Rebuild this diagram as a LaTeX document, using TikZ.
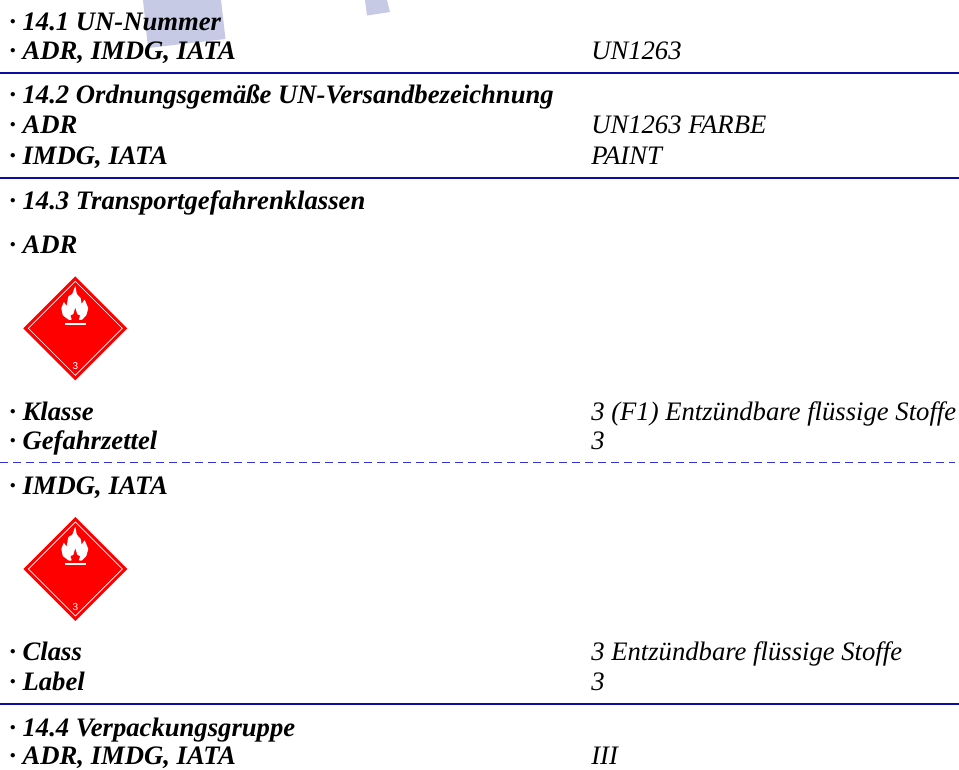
\documentclass[tikz,border=0pt]{standalone}
\usepackage{fontspec}
\setmainfont{Liberation Serif}
\newfontfamily\hazsans{Liberation Sans}
\definecolor{rulecol}{RGB}{12,12,160}
\definecolor{dashcol}{RGB}{50,50,215}
\definecolor{wm}{RGB}{198,202,228}
\definecolor{hazred}{RGB}{255,0,0}
\tikzset{x=0.75pt,y=-0.75pt,
 lab/.style={anchor=base west,inner sep=0pt,font=\fontsize{20}{20}\selectfont\bfseries\itshape},
 val/.style={anchor=base west,inner sep=0pt,font=\fontsize{20}{20}\selectfont\itshape},
 sep/.style={draw=rulecol,line width=1.5pt},
 dsep/.style={draw=dashcol,line width=0.75pt,dash pattern=on 6pt off 3.75pt}}
\newcommand{\hazdiamond}[2]{%
 \begin{scope}[shift={(#1,#2)}]
 \fill[hazred] (0,-52) -- (52,0) -- (0,52) -- (-52,0) -- cycle;
 \draw[white,line width=0.5pt] (0,-47) -- (47,0) -- (0,47) -- (-47,0) -- cycle;
 \fill[white,rounded corners=0.5pt] (-6.7,-8.5) -- (-12.5,-13) -- (-14,-20) -- (-11.5,-26.5) -- (-8.7,-22.3)
   -- (-7,-32) -- (-3,-34.3) -- (0,-42.5) -- (1.5,-34.3) -- (5.5,-30) -- (6.3,-24.3)
   -- (9.3,-29) -- (13,-20) -- (11,-13) -- (6.7,-8.5) -- (3.5,-8.5) -- (5,-13) -- (2,-14)
   -- (0,-21) -- (-2,-14) -- (-5,-13) -- (-3.5,-8.5) -- cycle;
 \fill[white] (-10.5,-5.7) rectangle (11,-3.6);
 \node[white,inner sep=0pt,font=\fontsize{7.5}{7.5}\selectfont\hazsans] at (0,38) {3};
 \end{scope}}
\begin{document}
\begin{tikzpicture}
\useasboundingbox (0,0) rectangle (959,769);
\fill[wm] (143,0) -- (221,0) -- (225.5,39) -- (148,48) -- cycle;
\fill[wm] (365,0) -- (387,0) -- (390,12) -- (367,15.5) -- cycle;
\node[lab] (a1) at (9,30) {· 14.1 UN-Nummer};
\node[lab] (a2) at (9,59) {· ADR, IMDG, IATA};
\node[val] (v2) at (591,59) {UN1263};
\coordinate (r1a) at (0,72.5); \coordinate (r1b) at (959,72.5);
\draw[sep] (r1a) -- (r1b);
\node[lab] (b1) at (9,103) {· 14.2 Ordnungsgemäße UN-Versandbezeichnung};
\node[lab] (b2) at (9,133.5) {· ADR};
\node[val] (v3) at (591,133.5) {UN1263 FARBE};
\node[lab] (b3) at (9,164) {· IMDG, IATA};
\node[val] (v4) at (591,164) {PAINT};
\coordinate (r2a) at (0,178); \coordinate (r2b) at (959,178);
\draw[sep] (r2a) -- (r2b);
\node[lab] (c1) at (9,209) {· 14.3 Transportgefahrenklassen};
\node[lab] (c2) at (9,253.3) {· ADR};
\hazdiamond{75.3}{328.3}
\node[lab] (c3) at (9,420) {· Klasse};
\node[val] (v5) at (591,420) {3 (F1) Entzündbare flüssige Stoffe};
\node[lab] (c4) at (9,449) {· Gefahrzettel};
\node[val] (v6) at (591,449) {3};
\coordinate (r3a) at (0,462.8); \coordinate (r3b) at (955,462.8);
\draw[dsep] (r3a) -- (r3b);
\node[lab] (d1) at (9,494) {· IMDG, IATA};
\hazdiamond{75.3}{569}
\node[lab] (d2) at (9,660) {· Class};
\node[val] (v7) at (591,660) {3 Entzündbare flüssige Stoffe};
\node[lab] (d3) at (9,690) {· Label};
\node[val] (v8) at (591,690) {3};
\coordinate (r4a) at (0,704); \coordinate (r4b) at (959,704);
\draw[sep] (r4a) -- (r4b);
\node[lab] (e1) at (9,736) {· 14.4 Verpackungsgruppe};
\node[lab] (e2) at (9,764.5) {· ADR, IMDG, IATA};
\node[val] (v9) at (591,764.5) {III};
\end{tikzpicture}
\end{document}
